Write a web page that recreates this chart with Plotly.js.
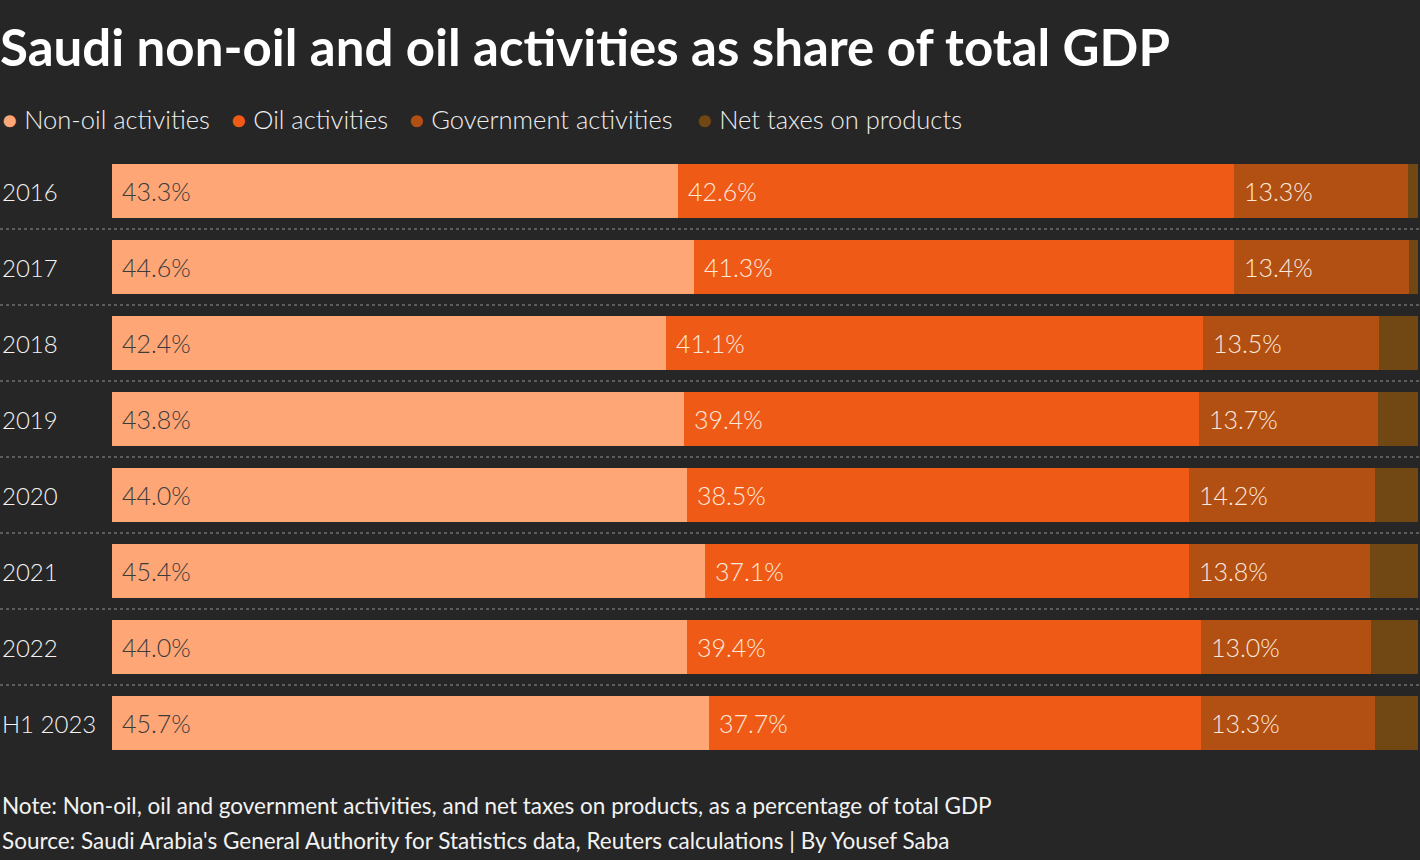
<!DOCTYPE html>
<html>
<head>
<meta charset="utf-8">
<script src="https://cdn.plot.ly/plotly-3.0.1.min.js"></script>
<style>
  html, body { margin: 0; padding: 0; background: #262626; }
  #chart { width: 1420px; height: 860px; }
</style>
</head>
<body>
<div id="chart"></div>
<script>
// ---- data ----
const categories = ["2016", "2017", "2018", "2019", "2020", "2021", "2022", "H1 2023"];
const nonOil = [43.3, 44.6, 42.4, 43.8, 44.0, 45.4, 44.0, 45.7];
const oil = [42.6, 41.3, 41.1, 39.4, 38.5, 37.1, 39.4, 37.7];
const government = [13.3, 13.4, 13.5, 13.7, 14.2, 13.8, 13.0, 13.3];
const netTaxes = [0.8, 0.7, 3.0, 3.1, 3.3, 3.7, 3.6, 3.3];
const seriesNames = ["Non-oil activities", "Oil activities", "Government activities", "Net taxes on products"];
const titleText = "Saudi non-oil and oil activities as share of total GDP";
const noteText = "Note: Non-oil, oil and government activities, and net taxes on products, as a percentage of total GDP";
const sourceText = "Source: Saudi Arabia's General Authority for Statistics data, Reuters calculations | By Yousef Saba";

// ---- style ----
const colors = ["#FFA677", "#EF5B17", "#B24F12", "#714713"];
const labelColors = ["#3b3b3b", "#fbe9de", "#fbe9de", "#fbe9de"];
const FONT = "Lato, 'Source Sans Pro', 'Open Sans', sans-serif";
const BG = "#262626";

const W = 1420, H = 860;
const M = {l: 112, r: 2, t: 153, b: 99};
const pw = W - M.l - M.r, ph = H - M.t - M.b;
const px = x => (x - M.l) / pw;          // pixel -> paper x
const py = y => (H - M.b - y) / ph;      // pixel -> paper y

const allSeries = [nonOil, oil, government, netTaxes];

const traces = allSeries.map((vals, i) => ({
  type: "bar",
  orientation: "h",
  name: seriesNames[i],
  y: categories,
  x: vals,
  marker: {color: colors[i], line: {width: 0}},
  hoverinfo: "skip",
  showlegend: false
}));

const annotations = [];

// value labels (first three series)
for (let s = 0; s < 3; s++) {
  categories.forEach((c, j) => {
    let base = 0;
    for (let k = 0; k < s; k++) base += allSeries[k][j];
    annotations.push({
      xref: "x", yref: "y", x: base, y: j,
      xanchor: "left", yanchor: "middle", xshift: 8,
      showarrow: false,
      text: allSeries[s][j].toFixed(1) + "%",
      font: {family: FONT, size: 25, color: labelColors[s], weight: 300}
    });
  });
}

// category labels (left aligned)
categories.forEach((c, j) => {
  annotations.push({
    xref: "paper", yref: "y", x: px(0), y: j,
    xanchor: "left", yanchor: "middle",
    showarrow: false, text: c,
    font: {family: FONT, size: 24, color: "#f2f2f2", weight: 300}
  });
});

// legend
const legendX = [0, 229, 407, 695];
seriesNames.forEach((n, i) => {
  annotations.push({
    xref: "paper", yref: "paper", x: px(legendX[i]), y: py(119),
    xanchor: "left", yanchor: "middle", showarrow: false,
    text: '<span style="color:' + colors[i] + '">●</span> ' + n,
    font: {family: FONT, size: 25.5, color: "#eeeeee", weight: 300}
  });
});

// footer
annotations.push({
  xref: "paper", yref: "paper", x: px(0), y: py(806),
  xanchor: "left", yanchor: "middle", showarrow: false, text: noteText,
  font: {family: FONT, size: 22.5, color: "#f2f2f2"}
});
annotations.push({
  xref: "paper", yref: "paper", x: px(0), y: py(840),
  xanchor: "left", yanchor: "middle", showarrow: false, text: sourceText,
  font: {family: FONT, size: 22.5, color: "#f2f2f2"}
});

// dotted separators between rows
const shapes = [];
for (let i = 0; i < categories.length - 1; i++) {
  shapes.push({
    type: "line", xref: "paper", yref: "y",
    x0: px(0), x1: px(W), y0: i + 0.5, y1: i + 0.5,
    line: {color: "#5c5c5c", width: 2, dash: "dot"},
    layer: "below"
  });
}

const layout = {
  width: W, height: H,
  paper_bgcolor: BG, plot_bgcolor: BG,
  margin: M,
  barmode: "stack",
  bargap: 0.29,
  title: {
    text: "<b>" + titleText + "</b>",
    xref: "container", yref: "container",
    x: 0.0, xanchor: "left",
    y: 1 - 48 / H, yanchor: "middle",
    font: {family: FONT, size: 51, color: "#ffffff"}
  },
  xaxis: {range: [0, 100], autorange: false, visible: false, fixedrange: true},
  yaxis: {
    type: "category", categoryorder: "array", categoryarray: categories,
    range: [categories.length - 0.5, -0.5], autorange: false,
    showticklabels: false, showgrid: false,
    zeroline: false, ticks: "", fixedrange: true
  },
  annotations: annotations,
  shapes: shapes,
  showlegend: false
};

Plotly.newPlot("chart", traces, layout, {displayModeBar: false, staticPlot: true});
</script>
</body>
</html>
